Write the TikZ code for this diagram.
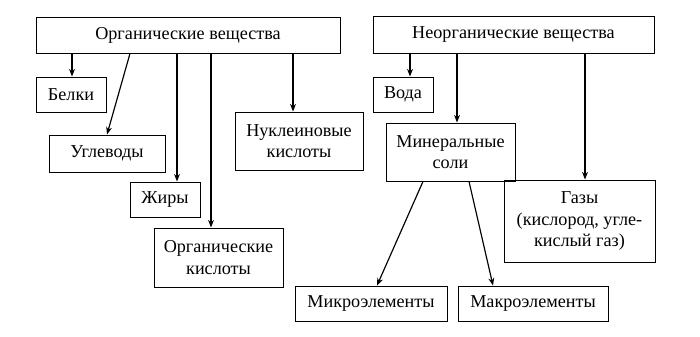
\documentclass[tikz,border=0pt]{standalone}
\usepackage{fontspec}
\setmainfont{Liberation Serif}
\usepackage{tikz}
\usetikzlibrary{arrows.meta,calc}

\begin{document}
\begin{tikzpicture}[x=0.03cm, y=-0.03cm,
    box/.style={draw, line width=0.8pt, inner sep=0pt, align=center, font=\fontsize{15.5}{18.5}\selectfont},
    arr/.style={line width=1pt, -{Stealth[length=6.5pt, width=5pt]}}]
  \useasboundingbox (0,0) rectangle (700,337);
  % organic
  \node[box, minimum width=304*0.03cm, minimum height=36*0.03cm] (org) at (188,35) {Органические вещества};
  \node[box, minimum width=70*0.03cm, minimum height=35*0.03cm] (belki) at (71,94.5) {Белки};
  \node[box, minimum width=116*0.03cm, minimum height=37*0.03cm] (ugl) at (107,153.5) {Углеводы};
  \node[box, minimum width=70*0.03cm, minimum height=35*0.03cm] (zhiry) at (165,199.5) {Жиры};
  \node[box, minimum width=129*0.03cm, minimum height=59*0.03cm] (orgkis) at (218.5,257.5) {Органические\\кислоты};
  \node[box, minimum width=128*0.03cm, minimum height=58*0.03cm] (nukl) at (299,141) {Нуклеиновые\\кислоты};
  % inorganic
  \node[box, minimum width=281*0.03cm, minimum height=37*0.03cm] (neorg) at (513.5,34.5) {Неорганические вещества};
  \node[box, minimum width=60*0.03cm, minimum height=35*0.03cm] (voda) at (403,94.5) {Вода};
  \node[box, minimum width=129*0.03cm, minimum height=58*0.03cm] (min) at (450.5,152) {Минеральные\\соли};
  \node[box, minimum width=151*0.03cm, minimum height=82*0.03cm] (gazy) at (579.5,221) {Газы\\(кислород, угле-\\кислый газ)};
  \node[box, minimum width=152*0.03cm, minimum height=35*0.03cm] (mikro) at (371,303.5) {Микроэлементы};
  \node[box, minimum width=150*0.03cm, minimum height=35*0.03cm] (makro) at (533,303.5) {Макроэлементы};
  % arrows
  \draw[arr] (org.south -| 72,0) -- (belki.north -| 72,0);
  \draw[arr] (org.south -| 130,0) -- (ugl.north);
  \draw[arr] (org.south -| 177,0) -- (zhiry.north -| 177,0);
  \draw[arr] (org.south -| 211,0) -- (orgkis.north -| 211,0);
  \draw[arr] (org.south -| 293,0) -- (nukl.north -| 293,0);
  \draw[arr] (neorg.south -| 410,0) -- (voda.north -| 410,0);
  \draw[arr] (neorg.south -| 457,0) -- (min.north -| 457,0);
  \draw[arr] (neorg.south -| 585,0) -- (gazy.north -| 585,0);
  \draw[arr] (min.south -| 423,0) -- (mikro.north -| 377,0);
  \draw[arr] (min.south -| 469,0) -- (makro.north -| 493,0);
\end{tikzpicture}
\end{document}
